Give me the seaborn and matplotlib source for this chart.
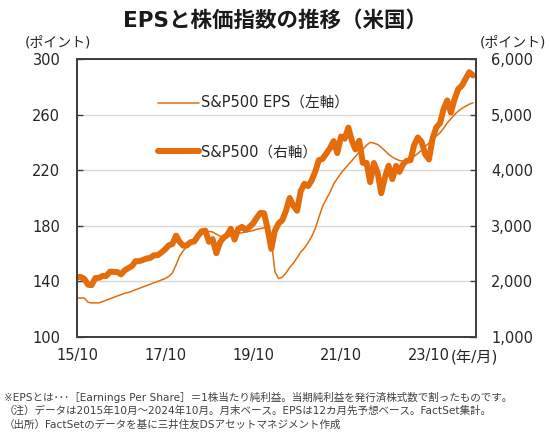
import pandas as pd
import matplotlib
matplotlib.use("Agg")
import matplotlib.pyplot as plt
import matplotlib.dates as mdates
import seaborn as sns

# monthly, 2015/10 - 2024/10 (month end)
months = pd.date_range("2015-10-31", periods=109, freq="ME")

# S&P500 index (right axis)
sp500 = [
    2079, 2080, 2044,
    1940, 1932, 2060, 2065, 2097, 2099, 2174, 2171, 2168, 2126, 2199, 2239,
    2279, 2364, 2363, 2384, 2412, 2423, 2470, 2472, 2519, 2575, 2648, 2674,
    2824, 2714, 2641, 2648, 2705, 2718, 2816, 2902, 2914, 2712, 2760, 2507,
    2704, 2784, 2834, 2946, 2752, 2942, 2980, 2926, 2977, 3038, 3141, 3231,
    3226, 2954, 2585, 2912, 3044, 3100, 3271, 3500, 3363, 3270, 3622, 3756,
    3714, 3811, 3973, 4181, 4204, 4298, 4395, 4523, 4308, 4605, 4567, 4766,
    4516, 4374, 4530, 4132, 4132, 3785, 4130, 3955, 3586, 3872, 4080, 3840,
    4077, 3970, 4109, 4169, 4180, 4450, 4589, 4508, 4288, 4194, 4568, 4770,
    4846, 5096, 5254, 5036, 5278, 5460, 5522, 5648, 5762, 5705,
]

# S&P500 12-month forward EPS (left axis)
eps = [
    128, 128, 128,
    125, 124.5, 124.5, 124.5, 125.5, 126.5, 127.5, 128.5, 129.5, 130.5, 131.5, 132,
    133, 134, 135, 136, 137, 138, 139, 140, 141, 142, 143.5, 146,
    152, 158, 162, 165, 167, 169, 172, 174, 175.5, 176, 175.5, 174,
    172.5, 172, 172.5, 173, 174, 174.5, 175, 175.5, 176, 176.5, 177.5, 178,
    178.5, 179, 170, 147, 142, 143, 146, 150, 153, 157, 161, 164,
    168, 172, 178, 186, 194, 199, 204, 210, 214, 218, 221, 224,
    227, 230, 233, 235, 238, 240, 239.5, 238.5, 236.5, 234, 231.5, 229.5,
    228, 227, 226.5, 226.5, 228, 230, 232, 234.5, 237, 239.5, 242, 244.5,
    247, 250, 254, 257, 260, 262.5, 264.5, 266, 267.5, 268.5,
]

df = pd.DataFrame({"date": months, "eps": eps, "sp500": sp500})

sns.set_style("white")
plt.rcParams["font.family"] = ["DejaVu Sans", "Noto Sans CJK JP"]

orange = "#E46C0A"
txt = "#262626"
spine_c = "#404040"

fig = plt.figure(figsize=(5.5, 4.43), dpi=100)
ax = fig.add_axes([0.14, 0.2393, 0.7255, 0.6275])
ax2 = ax.twinx()

sns.lineplot(data=df, x="date", y="eps", ax=ax, color=orange, linewidth=1.1,
             label="S&P500 EPS（左軸）", legend=False)
sns.lineplot(data=df, x="date", y="sp500", ax=ax2, color=orange, linewidth=4.3,
             label="S&P500（右軸）", legend=False)

ax.set_ylim(100, 300)
ax.set_yticks([100, 140, 180, 220, 260, 300])
ax2.set_ylim(1000, 6000)
ax2.set_yticks([1000, 2000, 3000, 4000, 5000, 6000])
ax2.yaxis.set_major_formatter(matplotlib.ticker.FuncFormatter(lambda v, p: f"{int(v):,}"))

ax.set_xlim(months[0], months[-1] + pd.Timedelta(days=25))
ax.set_xticks([pd.Timestamp(f"{y}-10-31") for y in (2015, 2017, 2019, 2021, 2023)])
ax.xaxis.set_major_formatter(mdates.DateFormatter("%y/%m"))

ax.grid(axis="y", color="#d9d9d9", linewidth=1)
ax2.grid(False)
ax.set_xlabel("")
ax.set_ylabel("")
ax2.set_ylabel("")

for a in (ax, ax2):
    for s in a.spines.values():
        s.set_color(spine_c)
        s.set_linewidth(1.4)
        s.set_visible(True)

ax.tick_params(axis="y", direction="in", length=4, width=1, color=spine_c,
               labelsize=10.5, labelcolor=txt, pad=12)
ax.tick_params(axis="x", direction="in", length=4, width=1, color=spine_c,
               labelsize=10.5, labelcolor=txt, pad=8)
ax2.tick_params(axis="y", direction="in", length=4, width=1, color=spine_c,
                labelsize=10.5, labelcolor=txt, pad=11)

h1, l1 = ax.get_legend_handles_labels()
h2, l2 = ax2.get_legend_handles_labels()
ax2.legend(h1 + h2, l1 + l2, loc="upper left", bbox_to_anchor=(0.17, 0.915),
           frameon=False, fontsize=10.5, handlelength=2.8, handletextpad=0.15,
           labelspacing=2.3, labelcolor=txt)

fig.text(0.5, 1 - 21 / 443, "EPSと株価指数の推移（米国）", ha="center", va="center",
         fontsize=15.5, fontweight="bold", color="#1a1a1a")
fig.text(58 / 550, 1 - 42 / 443, "(ポイント)", ha="center", va="center",
         fontsize=10, color=txt)
fig.text(513 / 550, 1 - 42 / 443, "(ポイント)", ha="center", va="center",
         fontsize=10, color=txt)
fig.text(451 / 550, 1 - 358 / 443, "(年/月)", ha="left", va="center",
         fontsize=11, color=txt)

notes = [
    "※EPSとは･･･［Earnings Per Share］＝1株当たり純利益。当期純利益を発行済株式数で割ったものです。",
    "（注）データは2015年10月～2024年10月。月末ベース。EPSは12カ月先予想ベース。FactSet集計。",
    "（出所）FactSetのデータを基に三井住友DSアセットマネジメント作成",
]
for i, n in enumerate(notes):
    fig.text(4 / 550, 1 - (397 + 14 * i) / 443, n, ha="left", va="center",
             fontsize=7.6, color="#404040")

fig.savefig("out.png", dpi=100)
